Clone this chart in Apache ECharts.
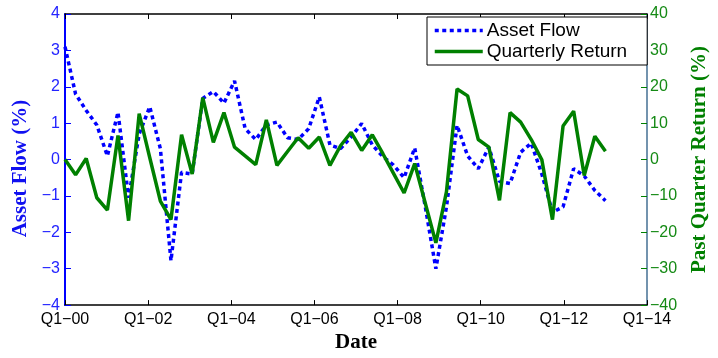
<!DOCTYPE html>
<html><head><meta charset="utf-8">
<script src="https://cdn.jsdelivr.net/npm/echarts@6/dist/echarts.min.js"></script>
<style>html,body{margin:0;padding:0;background:#fff}#c{width:718px;height:358px}</style>
</head><body><div id="c"></div>
<script>
// Quarters Q1-00 ... Q4-12 (52 observations)
const quarters = [];
for (let y = 0; y <= 12; y++) for (let q = 1; q <= 4; q++) quarters.push('Q' + q + '-' + String(y).padStart(2, '0'));

// Asset flow (%), left axis
const assetFlow = [
  3.1, 1.8, 1.35, 0.95, 0.1, 1.3, -1.05, 0.7, 1.45, 0.3,
  -2.78, -0.35, -0.4, 1.68, 1.87, 1.55, 2.16, 0.85, 0.55, 0.95,
  1.03, 0.6, 0.55, 0.85, 1.72, 0.4, 0.3, 0.62, 0.99, 0.4,
  0.08, -0.15, -0.5, 0.32, -1.3, -3.0, -1.3, 0.94, 0.1, -0.25,
  0.34, -0.6, -0.66, 0.2, 0.45, -0.4, -1.45, -1.3, -0.25, -0.45,
  -0.85, -1.13
];
// Past quarter return (%), right axis
const quarterlyReturn = [
  0, -4.2, 0.3, -10.5, -13.9, 6.6, -16.8, 12.6, 0.5, -11.4,
  -16.5, 6.8, -4.0, 17.0, 4.7, 12.9, 3.4, 1.0, -1.4, 10.9,
  -1.6, 2.2, 6.0, 3.1, 6.2, -1.6, 3.8, 7.5, 2.5, 6.8,
  1.6, -3.8, -9.2, -1.1, -12.0, -22.9, -8.8, 19.4, 17.5, 5.5,
  3.4, -11.2, 12.9, 10.3, 5.5, -0.1, -16.5, 9.2, 13.3, -4.4,
  6.4, 2.3
];
const xTickLabels = ['Q1\u221200','Q1\u221202','Q1\u221204','Q1\u221206','Q1\u221208','Q1\u221210','Q1\u221212','Q1\u221214'];

// the source spreads the 52 observations evenly from 2000 to 2013 on a year axis
const xPos = quarters.map((q, i) => 2000 + 13 * i / (quarters.length - 1));
const flowData = assetFlow.map((v, i) => [xPos[i], v]);
const retData = quarterlyReturn.map((v, i) => [xPos[i], v]);

const minus = v => String(v).replace('-', '\u2212');
const sans = 'Liberation Sans';
const serif = 'Liberation Serif';
const blue = '#0000ff', green = '#008000';

const chart = echarts.init(document.getElementById('c'));
chart.setOption({
  animation: false,
  backgroundColor: '#fff',
  grid: { left: 65, right: 67, top: 14, bottom: 36 },
  legend: {
    orient: 'vertical', left: 427, top: 17, align: 'left',
    padding: [4, 20, 4, 6], itemGap: 2, itemWidth: 48, itemHeight: 14,
    backgroundColor: '#fff', borderColor: '#000', borderWidth: 1, borderRadius: 0,
    itemStyle: { opacity: 0 },
    lineStyle: { width: 3.5 },
    textStyle: { fontFamily: sans, fontSize: 19, color: '#000', lineHeight: 18, padding: [0, 0, 0, -1] },
    data: ['Asset Flow', 'Quarterly Return']
  },
  xAxis: [{
    type: 'value', min: 2000, max: 2014, interval: 2, position: 'bottom',
    axisLine: { onZero: false, lineStyle: { color: '#000', width: 1.5 } },
    axisTick: { inside: true, length: 5, lineStyle: { color: '#000' } },
    splitLine: { show: false },
    axisLabel: { showMinLabel: true, showMaxLabel: true, fontFamily: sans, fontSize: 16, color: '#000', margin: 6,
      formatter: v => xTickLabels[Math.round((v - 2000) / 2)] },
    name: 'Date', nameLocation: 'middle', nameGap: 22,
    nameTextStyle: { fontFamily: serif, fontWeight: 'bold', fontSize: 21, color: '#000' }
  }, {
    type: 'value', min: 2000, max: 2014, interval: 2, position: 'top',
    axisLine: { onZero: false, lineStyle: { color: '#000', width: 1.5 } },
    axisTick: { inside: true, length: 5, lineStyle: { color: '#000' } },
    axisLabel: { show: false }, splitLine: { show: false }
  }],
  yAxis: [{
    type: 'value', min: -4, max: 4, interval: 1, position: 'left',
    axisLine: { show: true, onZero: false, lineStyle: { color: blue, width: 2 } },
    axisTick: { show: true, inside: true, length: 6, lineStyle: { color: blue } },
    splitLine: { show: false },
    axisLabel: { fontFamily: sans, fontSize: 16, color: '#2424ff', margin: 5, formatter: minus },
    name: 'Asset Flow (%)', nameLocation: 'middle', nameRotate: 90, nameGap: 33,
    nameTextStyle: { fontFamily: serif, fontWeight: 'bold', fontSize: 21, color: '#1010f0', padding: [0, 18, 0, 0] }
  }, {
    type: 'value', min: -40, max: 40, interval: 10, position: 'right',
    axisLine: { show: true, onZero: false, lineStyle: { color: '#456f93', width: 1.5 } },
    axisTick: { show: true, inside: true, length: 6, lineStyle: { color: green } },
    splitLine: { show: false },
    axisLabel: { fontFamily: sans, fontSize: 16, color: '#158a15', margin: 3, formatter: minus },
    name: 'Past Quarter Return (%)', nameLocation: 'middle', nameRotate: 90, nameGap: 42,
    nameTextStyle: { fontFamily: serif, fontWeight: 'bold', fontSize: 21, color: green }
  }],
  series: [{
    name: 'Asset Flow', type: 'line', xAxisIndex: 0, yAxisIndex: 0, data: flowData,
    symbol: 'none', z: 2,
    lineStyle: { color: blue, width: 3.5, type: [4, 3.5] }, itemStyle: { color: blue }
  }, {
    name: 'Quarterly Return', type: 'line', xAxisIndex: 0, yAxisIndex: 1, data: retData,
    symbol: 'none', z: 3,
    lineStyle: { color: green, width: 3.5 }, itemStyle: { color: green }
  }]
});
</script>
</body></html>
